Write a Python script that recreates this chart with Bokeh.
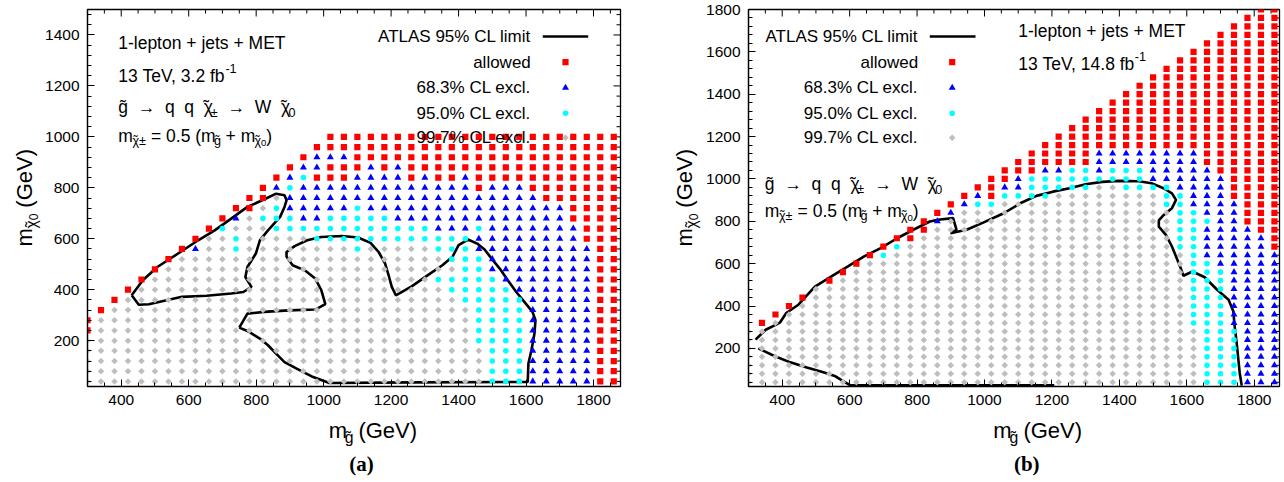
import math
from bokeh.plotting import figure
from bokeh.layouts import row, column
from bokeh.models import Label, FixedTicker, Range1d
from bokeh.embed import file_html
from bokeh.resources import INLINE

FONT = "Liberation Sans"
SERIF = "Liberation Serif"

# ---------------- data ----------------
mg_values = [300, 340, 380, 420, 460, 500, 540, 580, 620, 660, 700, 740, 780, 820,
             860, 900, 940, 980, 1020, 1060, 1100, 1140, 1180, 1220, 1260, 1300,
             1340, 1380, 1420, 1460, 1500, 1540, 1580, 1620, 1660, 1700, 1740,
             1780, 1820, 1860]

mchi_rows_a = [1000, 960, 920, 880, 840, 800, 760, 720, 680, 640, 600, 560, 520,
               480, 440, 400, 360, 320, 280, 240, 200, 160, 120, 80, 40]
mchi_rows_b = [1800, 1760, 1720, 1680, 1640, 1600, 1560, 1520, 1480, 1440, 1400,
               1360, 1320, 1280, 1240, 1200, 1160, 1120, 1080, 1040, 1000, 960,
               920, 880, 840, 800, 760, 720, 680, 640, 600, 560, 520, 480, 440,
               400, 360, 320, 280, 240, 200, 160, 120, 80, 40]

# run-length coded class of each grid point, one entry per m_chi0 row
# R = allowed, B = 68.3% excl, C = 95.0% excl, G = 99.7% excl, . = no point
class_rows_a = [
    "18. 22R", "17. 23R", "16. 1R 3B 20R", "15. 1R 2B 3R 1B 1R 1B 16R",
    "14. 1R 1B 1C 3R 4B 1R 1B 2R 1B 11R", "13. 1R 1B 1C 13B 1R 3B 7R",
    "12. 2R 1G 19B 6R", "11. 2R 1G 1C 5B 1C 15B 4R",
    "10. 1R 1B 1G 3C 2B 5C 13B 4R", "9. 1R 1C 3G 12C 3B 1C 7B 3R",
    "8. 1R 2G 1C 5G 12C 8B 3R", "7. 1R 1B 2G 1C 8G 1C 5G 3C 9B 2R",
    "6. 1R 20G 3C 8B 2R", "5. 1R 22G 2C 8B 2R", "4. 1R 21G 5C 7B 2R",
    "3. 1R 23G 5C 6B 2R", "2. 1R 25G 5C 5B 2R", "1. 1R 27G 4C 5B 2R",
    "1R 28G 4C 5B 2R", "1R 28G 4C 5B 2R", "29G 4C 5B 2R", "30G 3C 5B 2R",
    "30G 3C 5B 2R", "30G 3C 5B 2R", "30G 3C 5B 2R",
]
class_rows_b = [
    "38. 2R", "37. 3R", "36. 4R", "35. 5R", "34. 6R", "33. 7R", "32. 8R",
    "31. 9R", "30. 10R", "29. 11R", "28. 12R", "27. 13R", "26. 14R", "25. 15R",
    "24. 16R", "23. 17R", "22. 18R", "21. 5R 8B 6R", "20. 6R 8B 6R",
    "19. 3R 2B 2C 1B 3C 5B 5R", "18. 2R 1B 9C 6B 4R",
    "17. 2R 2B 5C 2G 4C 4B 4R", "16. 1R 1B 1R 4C 8G 2C 3B 4R",
    "15. 1R 1B 2C 12G 2C 4B 3R", "14. 1R 1B 16G 2C 3B 3R",
    "13. 1R 1B 17G 3C 2B 3R", "12. 2R 18G 2C 4B 2R", "11. 2R 19G 2C 5B 1R",
    "10. 1R 1C 20G 2C 5B 1R", "9. 1R 1C 22G 1C 6B", "8. 1R 24G 2C 5B",
    "7. 1R 25G 3C 4B", "6. 1R 26G 3C 4B", "5. 28G 3C 4B", "4. 1R 28G 3C 4B",
    "3. 1R 29G 3C 4B", "2. 1R 30G 3C 4B", "1. 1R 31G 3C 4B", "34G 3C 3B",
    "34G 3C 3B", "34G 3C 3B", "34G 3C 3B", "34G 3C 3B", "34G 3C 3B", "34G 3C 3B",
]

# ATLAS 95% CL limit contours (GeV)
limit_a1_x = [431, 464, 507, 580, 628, 677, 726, 774, 823, 859, 884, 890, 884, 871,
              835, 811, 799, 774, 768, 786, 762, 726, 653, 580, 531, 482, 452, 431]
limit_a1_y = [378, 437, 489, 552, 594, 633, 679, 725, 754, 777, 771, 751, 725, 686,
              633, 594, 542, 489, 450, 411, 391, 385, 376, 372, 358, 343, 341, 378]
limit_a2_x = [750, 774, 823, 896, 975, 1005, 993, 975, 944, 908, 890, 890, 914, 951,
              993, 1054, 1102, 1139, 1163, 1182, 1194, 1202, 1214, 1261, 1309, 1352,
              1382, 1400, 1428, 1455, 1477, 1498, 1522, 1546, 1571, 1595, 1619, 1628,
              1625, 1616, 1607, 1605, 1261, 1017, 969, 920, 884, 859, 835, 811, 774, 750]
limit_a2_y = [251, 306, 313, 319, 322, 343, 398, 444, 476, 496, 529, 548, 571, 594,
              607, 611, 605, 584, 548, 503, 450, 411, 378, 413, 457, 496, 529, 575,
              597, 581, 558, 522, 483, 437, 391, 352, 313, 280, 228, 162, 110, 38, 36,
              34, 57, 90, 116, 149, 182, 208, 238, 251]
limit_b1_x = [321, 351, 382, 394, 412, 448, 497, 546, 595, 643, 692, 741, 789, 838,
              862, 907, 917, 899, 947, 996, 1057, 1106, 1154, 1203, 1252, 1300, 1349,
              1398, 1458, 1495, 1531, 1556, 1568, 1556, 1529, 1517, 1517, 1538, 1556,
              1568, 1580, 1590, 1617, 1653, 1690, 1724, 1738, 1742, 1748, 1753, 1757, 1763]
limit_b1_y = [241, 288, 312, 323, 367, 406, 492, 540, 587, 634, 673, 720, 760, 799,
              807, 815, 760, 744, 760, 794, 838, 885, 920, 940, 956, 975, 986, 991,
              989, 980, 956, 932, 901, 862, 826, 804, 775, 736, 681, 634, 587, 543,
              563, 536, 477, 430, 375, 304, 225, 147, 84, 24]
limit_b2_x = [329, 375, 424, 473, 522, 558, 582, 601, 1207]
limit_b2_y = [200, 165, 134, 110, 87, 68, 44, 26, 26]

x_tick_labels = [400, 600, 800, 1000, 1200, 1400, 1600, 1800]
y_tick_labels_a = [200, 400, 600, 800, 1000, 1200, 1400]
y_tick_labels_b = [200, 400, 600, 800, 1000, 1200, 1400, 1600, 1800]

legend_labels = ["ATLAS 95% CL limit", "allowed", "68.3% CL excl.",
                 "95.0% CL excl.", "99.7% CL excl."]

# ---------------- helpers ----------------
STYLE = {
    "R": dict(marker="square", size=6.2, color="#ff0000", angle=0.0),
    "B": dict(marker="triangle", size=7.0, color="#0000ff", angle=0.0),
    "C": dict(marker="circle", size=5.6, color="#00ffff", angle=0.0),
    "G": dict(marker="square", size=4.6, color="#bebebe", angle=math.pi / 4),
}


def decode(code, n):
    out = ""
    for tok in code.split():
        out += tok[-1] * int(tok[:-1])
    if len(out) != n:
        print("WARNING row length", len(out), code)
        out = (out + "." * n)[:n]
    return out


def split_classes(rows, codes):
    pts = {k: ([], []) for k in "RBCG"}
    for yv, code in zip(rows, codes):
        s = decode(code, len(mg_values))
        for xv, ch in zip(mg_values, s):
            if ch in pts:
                pts[ch][0].append(xv)
                pts[ch][1].append(yv)
    return pts


NB = "\u00a0"
TILDE = "\u0303"
W = {' ': 278, NB: 278, '(': 333, ')': 333, '+': 584, ',': 278, '-': 333, '.': 278,
     '=': 584, '%': 889, 'A': 667, 'C': 722, 'E': 667, 'G': 778, 'L': 556,
     'M': 833, 'S': 667, 'T': 611, 'V': 667, 'W': 944, 'a': 556, 'b': 556,
     'c': 500, 'd': 556, 'e': 556, 'f': 278, 'g': 556, 'i': 222, 'j': 222,
     'l': 222, 'm': 833, 'n': 556, 'o': 556, 'p': 556, 'q': 556, 's': 500,
     't': 278, 'w': 722, 'x': 500, '\u03c7': 530, '\u00b1': 584,
     '\u2192': 1000, TILDE: 0}


def tw(s, fs):
    return 0.975 * sum(W.get(ch, 556) for ch in s) / 1000.0 * fs


def rich(p, x, y, pieces, size, angle=0.0, align="left", units="screen"):
    total = sum(tw(t, size * sc) for t, sc, sh in pieces)
    off = {"left": 0.0, "center": -total / 2, "right": -total}[align]

    def pos(o, sh):
        if angle == 0.0:
            return x + o, y + sh * size
        return x - sh * size, y + o

    def put(text, o, sh, fs, talign):
        lx, ly = pos(o, sh)
        p.add_layout(Label(x=lx, y=ly, x_units=units, y_units=units, text=text,
                           text_font=FONT, text_font_size=f"{fs:.1f}px",
                           text_baseline="middle", text_align=talign, angle=angle,
                           text_color="black"))

    for t, sc, sh in pieces:
        fs = size * sc
        base = t.replace(TILDE, "")
        put(base.replace(" ", NB), off, sh, fs, "left")
        run = 0.0
        for i, ch in enumerate(t):
            if ch == TILDE:
                continue
            cw = tw(ch, fs)
            if i + 1 < len(t) and t[i + 1] == TILDE:
                put("\u02dc", off + run + cw / 2, sh, fs, "center")
            run += cw
        off += tw(base, fs)


SUB = (0.72, -0.32)
SUP = (0.72, 0.42)
TXT = 17.5


def text_fig(w, h):
    f = figure(width=w, height=h, x_range=Range1d(0, w), y_range=Range1d(0, h),
               x_axis_type=None, y_axis_type=None, toolbar_location=None,
               output_backend="svg", min_border=0)
    f.outline_line_color = None
    f.background_fill_color = "white"
    f.border_fill_color = "white"
    return f


def make_panel(rows, codes, contours, xr, yr, fw, fh, bl, br, ymaj, texts, legend_pos):
    p = figure(frame_width=fw, frame_height=fh, min_border_left=bl, min_border_right=br,
               min_border_top=9, min_border_bottom=30, x_range=Range1d(*xr),
               y_range=Range1d(*yr), output_backend="svg", toolbar_location=None,
               background_fill_color="white", border_fill_color="white")
    p.outline_line_color = "black"
    p.outline_line_width = 1.3
    p.xgrid.visible = False
    p.ygrid.visible = False

    xmaj = x_tick_labels
    xmin = list(range(300, int(xr[1]) + 1, 50))
    ymin = list(range(40, int(yr[1]) + 1, 40))
    bottom = p.below[0]
    left = p.left[0]
    bottom.ticker = FixedTicker(ticks=xmaj, minor_ticks=xmin)
    left.ticker = FixedTicker(ticks=ymaj, minor_ticks=ymin)
    for ax in [bottom, left]:
        ax.major_tick_in = 7
        ax.major_tick_out = 0
        ax.minor_tick_in = 4
        ax.minor_tick_out = 0
        ax.axis_line_color = "black"
        ax.axis_line_width = 1.2
        ax.major_tick_line_color = "black"
        ax.minor_tick_line_color = "black"
        ax.major_label_text_font = FONT
        ax.major_label_text_color = "black"
        ax.major_label_text_font_size = "15.5px"
    bottom.major_label_standoff = 8
    left.major_label_standoff = 8

    # mirrored (inward) ticks on the top and right frame edges
    dx = (xr[1] - xr[0]) / fw
    dy = (yr[1] - yr[0]) / fh
    tx = [v for v in xmin if v not in xmaj] + xmaj
    tl = [4 * dy] * (len(tx) - len(xmaj)) + [7 * dy] * len(xmaj)
    p.segment(x0=tx, y0=[yr[1]] * len(tx), x1=tx, y1=[yr[1] - l for l in tl],
              line_color="black", line_width=1)
    ty = [v for v in ymin if v not in ymaj] + ymaj
    tl = [4 * dx] * (len(ty) - len(ymaj)) + [7 * dx] * len(ymaj)
    p.segment(x0=[xr[1]] * len(ty), y0=ty, x1=[xr[1] - l for l in tl], y1=ty,
              line_color="black", line_width=1)

    for cx, cy in contours:
        p.line(cx, cy, line_color="black", line_width=2.6)

    pts = split_classes(rows, codes)
    for k in "GCBR":
        st = STYLE[k]
        p.scatter(pts[k][0], pts[k][1], marker=st["marker"], size=st["size"],
                  fill_color=st["color"], line_color=None, angle=st["angle"])

    def xd(sx):
        return xr[0] + sx * dx

    def yd(sy):
        return yr[0] + sy * dy

    lx_txt, lx0, lx1, lxm, lys = legend_pos
    for lab, ly in zip(legend_labels, lys):
        p.add_layout(Label(x=lx_txt, y=ly, x_units="screen", y_units="screen",
                           text=lab, text_font=FONT, text_font_size="17px",
                           text_align="right", text_baseline="middle",
                           text_color="black"))
    p.line([xd(lx0), xd(lx1)], [yd(lys[0]), yd(lys[0])], line_color="black", line_width=2.6)
    for k, ly in zip("RBCG", lys[1:]):
        st = STYLE[k]
        p.scatter([xd(lxm)], [yd(ly)], marker=st["marker"], size=st["size"],
                  fill_color=st["color"], line_color=None, angle=st["angle"])

    for (tx_, ty_, pieces) in texts:
        rich(p, tx_, ty_, pieces, TXT)
    return p


line3 = [("g\u0303  \u2192  q  q  \u03c7\u0303", 1, 0), ("\u00b1", *SUB),
         ("  \u2192  W  \u03c7\u0303", 1, 0), ("0", *SUB)]
line4 = [("m", 1, 0), ("\u03c7\u0303\u00b1", *SUB), (" = 0.5 (m", 1, 0), ("g\u0303", *SUB),
         (" + m", 1, 0), ("\u03c7\u0303", *SUB), ("0", 0.55, -0.42), (")", 1, 0)]

texts_a = [
    (30.7, 343.3, [("1-lepton + jets + MET", 1, 0)]),
    (30.7, 311.0, [("13 TeV, 3.2 fb", 1, 0), ("-1", *SUP)]),
    (30.7, 279.3, line3),
    (30.7, 251.0, line4),
]
texts_b = [
    (269.7, 355.3, [("1-lepton + jets + MET", 1, 0)]),
    (269.7, 322.7, [("13 TeV, 14.8 fb", 1, 0), ("-1", *SUP)]),
    (16.3, 202.7, line3),
    (16.3, 176.0, line4),
]

LEG_Y = [350.0, 324.3, 298.7, 273.3, 248.7]
pa = make_panel(mchi_rows_a, class_rows_a,
                [(limit_a1_x, limit_a1_y), (limit_a2_x, limit_a2_y)],
                (300, 1880), (20, 1500), 533, 377, 44, 21, y_tick_labels_a, texts_a,
                (443.3, 455.3, 500.7, 478.0, LEG_Y))
pb = make_panel(mchi_rows_b, class_rows_b,
                [(limit_b1_x, limit_b1_y), (limit_b2_x, limit_b2_y)],
                (300, 1875), (20, 1800), 531, 377, 45, 6, y_tick_labels_b, texts_b,
                (169.7, 181.3, 227.0, 203.7, LEG_Y))

XT = [("m", 1, 0), ("g\u0303", *SUB), (" (GeV)", 1, 0)]
YT = [("m", 1, 0), ("\u03c7\u0303", *SUB), ("0", 0.55, -0.42), (" (GeV)", 1, 0)]


def xtitle_fig(w, xc, tag, xtag):
    f = text_fig(w, 66)
    rich(f, xc, 52, XT, 22, align="center", units="data")
    f.add_layout(Label(x=xtag, y=19, text=tag, text_font=SERIF, text_font_size="21px",
                       text_font_style="bold", text_align="center",
                       text_baseline="middle", text_color="black"))
    return f


def ytitle_fig(w, xc, yc):
    f = text_fig(w, 482)
    rich(f, xc, yc, YT, 22, angle=math.pi / 2, align="center", units="data")
    return f


ya = ytitle_fig(42, 24, 284)
yb = ytitle_fig(62, 43, 284)
xa = xtitle_fig(598, 316, "(a)", 308)
xb = xtitle_fig(582, 313, "(b)", 305)

layout = row(ya, column(pa, xa), yb, column(pb, xb))
open("out.html", "w").write(file_html(layout, INLINE))
